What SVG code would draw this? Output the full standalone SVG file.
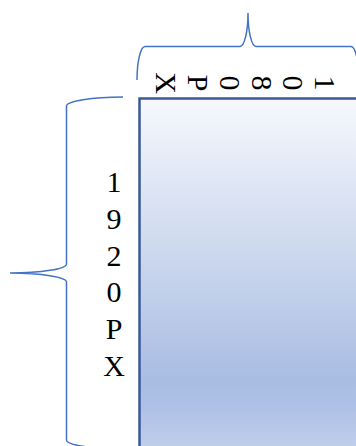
<svg xmlns="http://www.w3.org/2000/svg" width="356" height="446" viewBox="0 0 356 446">
  <style>
    .brace { fill: none; stroke: #4472C4; stroke-width: 1.5; }
    .lbl { font-family: "Liberation Serif", "Times New Roman", serif; font-size: 30px; fill: #000000; }
  </style>
  <defs>
    <linearGradient id="fillGrad" gradientUnits="userSpaceOnUse" x1="0" y1="98" x2="0" y2="446">
      <stop offset="0" stop-color="#F6F8FD"/>
      <stop offset="0.5" stop-color="#C7D4EC"/>
      <stop offset="0.81" stop-color="#A9BDE3"/>
      <stop offset="0.88" stop-color="#ADC0E5"/>
      <stop offset="1" stop-color="#BECEEB"/>
    </linearGradient>
  </defs>
  <rect width="356" height="446" fill="#FFFFFF"/>

  <g id="screen">
    <rect x="139.5" y="98.5" width="300" height="400" fill="url(#fillGrad)" stroke="#3A5896" stroke-width="2.5"/>
  </g>

  <g id="connectors">
    <path id="top-brace" class="brace" d="M137,80 A8,33.5 0 0 1 145,46.5 L240,46.5 A8,33.5 0 0 0 248,13 A8,33.5 0 0 0 256,46.5 L351,46.5 A8,33.5 0 0 1 359,80"/>
    <path id="left-brace" class="brace" d="M123,97 A56.5,9 0 0 0 66.5,106 L66.5,264 A56.5,9 0 0 1 10,273 A56.5,9 0 0 1 66.5,282 L66.5,440 A56.5,9 0 0 0 123,449"/>
  </g>

  <g id="label-width">
    <text class="lbl" x="325" y="83" text-anchor="middle" dominant-baseline="central" transform="rotate(90 325 83)">1</text>
    <text class="lbl" x="293" y="83" text-anchor="middle" dominant-baseline="central" transform="rotate(90 293 83)">0</text>
    <text class="lbl" x="262" y="83" text-anchor="middle" dominant-baseline="central" transform="rotate(90 262 83)">8</text>
    <text class="lbl" x="230" y="83" text-anchor="middle" dominant-baseline="central" transform="rotate(90 230 83)">0</text>
    <text class="lbl" x="198" y="83" text-anchor="middle" dominant-baseline="central" transform="rotate(90 198 83)">P</text>
    <text class="lbl" x="166" y="83" text-anchor="middle" dominant-baseline="central" transform="rotate(90 166 83)">X</text>
  </g>

  <g id="label-height">
    <text class="lbl" x="114" y="192" text-anchor="middle">1</text>
    <text class="lbl" x="114" y="228.8" text-anchor="middle">9</text>
    <text class="lbl" x="114" y="265.6" text-anchor="middle">2</text>
    <text class="lbl" x="114" y="302.4" text-anchor="middle">0</text>
    <text class="lbl" x="114" y="339.2" text-anchor="middle">P</text>
    <text class="lbl" x="114" y="376" text-anchor="middle">X</text>
  </g>
</svg>
